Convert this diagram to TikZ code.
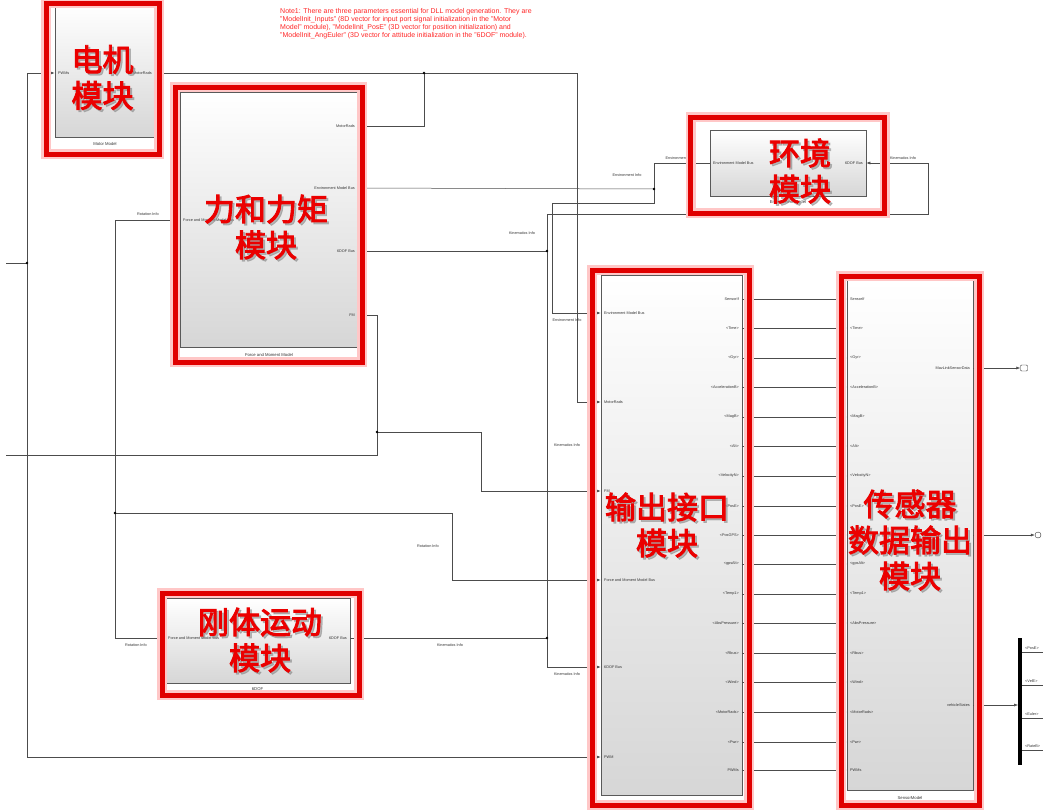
\documentclass[tikz,border=0pt]{standalone}
\usepackage{fontspec}
\setmainfont{Liberation Sans}
\newfontfamily\cjk[AutoFakeBold=3]{Noto Sans CJK SC}
\usepackage{tikz}
\usetikzlibrary{arrows.meta}

\begin{document}
\begin{tikzpicture}[x=1pt,y=-1pt,
    blk/.style={draw=black!65, line width=.6pt, top color=white, bottom color=gray!32, inner sep=0pt},
    hl/.style={draw=red!88!black, line width=5pt, preaction={draw=red!22, line width=10pt}, inner sep=0pt},
    wire/.style={draw=black!70, line width=.5pt},
    sig/.style={draw=black!70, line width=.5pt, -{Latex[length=4pt,width=3pt]}},
    port/.style={font=\fontsize{3.8}{4.5}\selectfont, inner sep=1pt, text=black!80},
    bname/.style={font=\fontsize{4.2}{5}\selectfont, inner sep=0pt, text=black!80},
    zh/.style={font=\cjk\bfseries\fontsize{31}{36}\selectfont, text=red!92!black, align=center},
    zhshadow/.style={font=\cjk\bfseries\fontsize{31}{36}\selectfont, text=black!45, opacity=.55, align=center},
    jdot/.style={circle, fill=black, inner sep=0pt, minimum size=2.6pt}]
      \useasboundingbox (0,0) rectangle (1043,811);
      % blocks
      \node[blk, minimum width=100, minimum height=132] (motor) at (105,71) {};
      \node[blk, minimum width=178, minimum height=255] (force) at (269,219.5) {};
      \node[blk, minimum width=185, minimum height=85] (sixdof) at (257.5,640.5) {};
      \node[blk, minimum width=156, minimum height=66] (env) at (788,163) {};
      \node[blk, minimum width=141, minimum height=520] (outsig) at (671.5,535) {};
      \node[blk, minimum width=126, minimum height=510] (sensor) at (910,535) {};
      \draw (105,144) node[bname] {Motor Model};
      \draw (269,355) node[bname] {Force and Moment Model};
      \draw (257.5,689) node[bname] {6DOF};
      \draw (788,202) node[bname] {Environment Model};
      \draw (671.5,802) node[bname] {OutputSignals};
      \draw (910,798) node[bname] {SensorModel};
      % port names
      \draw (57,73) node[port,anchor=west] {PWMs};
      \draw (153,73) node[port,anchor=east] {MotorRads};
      \draw (356,126) node[port,anchor=east] {MotorRads};
      \draw (356,188) node[port,anchor=east] {Environment Model Bus};
      \draw (356,251) node[port,anchor=east] {6DOF Bus};
      \draw (356,315) node[port,anchor=east] {FM};
      \draw (182,220) node[port,anchor=west] {Force and Moment Model Bus};
      \draw (167,638) node[port,anchor=west] {Force and Moment Model Bus};
      \draw (348,638) node[port,anchor=east] {6DOF Bus};
      \draw (712,163) node[port,anchor=west] {Environment Model Bus};
      \draw (864,163) node[port,anchor=east] {6DOF Bus};
      \draw (603,313) node[port,anchor=west] {Environment Model Bus};
      \draw (603,402) node[port,anchor=west] {MotorRads};
      \draw (603,491) node[port,anchor=west] {FM};
      \draw (603,580) node[port,anchor=west] {Force and Moment Model Bus};
      \draw (603,667) node[port,anchor=west] {6DOF Bus};
      \draw (603,757) node[port,anchor=west] {PWM};
      \draw (971,368) node[port,anchor=east] {MavLinkSensorData};
      \draw (971,705) node[port,anchor=east] {vehicleStates};
      % named points of the wires
      \coordinate (in1) at (6,263);
      \coordinate (in2) at (6,455);
      \coordinate (jin) at (27,263);
      \coordinate (jmot) at (424,73);
      \coordinate (jenv) at (654,189);
      \coordinate (jdof) at (547,638);
      \coordinate (jkin) at (547,251);
      \coordinate (jfm) at (377,432);
      \coordinate (jrot) at (115,513);
      % inports and PWM
      \draw[wire] (in1) -- (jin);
      \draw[wire] (27,73) -- (27,757);
      \draw[sig] (27,73) -- (motor.west |- 0,73);
      \draw[sig] (27,757) -- (outsig.west |- 0,757);
      % motor speed
      \draw[wire] (motor.east |- 0,73) -- (577,73) -- (577,402);
      \draw[sig] (577,402) -- (outsig.west |- 0,402);
      \draw[sig] (jmot) |- (force.east |- 0,126);
      % environment
      \draw[wire] (env.west |- 0,163) -| (jenv);
      \draw[sig] (jenv) -- (force.east |- 0,188);
      \draw[wire] (jenv) |- (552,203) -- (552,313);
      \draw[sig] (552,313) -- (outsig.west |- 0,313);
      % 6DOF
      \draw[wire] (sixdof.east |- 0,638) -- (jdof) -- (547,667);
      \draw[sig] (547,667) -- (outsig.west |- 0,667);
      \draw[wire] (jdof) -- (547,214) -- (928,214) -- (928,163);
      \draw[sig] (928,163) -- (env.east |- 0,163);
      \draw[sig] (jkin) -- (force.east |- 0,251);
      % force/moment input
      \draw[wire] (in2) -- (377,455) -- (377,315);
      \draw[sig] (377,315) -- (force.east |- 0,315);
      \draw[wire] (jfm) -- (481,432) -- (481,491);
      \draw[sig] (481,491) -- (outsig.west |- 0,491);
      % rotation info
      \draw[wire] (force.west |- 0,220) -- (115,220) -- (115,638);
      \draw[sig] (115,638) -- (sixdof.west |- 0,638);
      \draw[wire] (jrot) -- (452,513) -- (452,580);
      \draw[sig] (452,580) -- (outsig.west |- 0,580);
      % junctions
      \node[jdot] at (jin) {};
      \node[jdot] at (jmot) {};
      \node[jdot] at (jenv) {};
      \node[jdot] at (jdof) {};
      \node[jdot] at (jkin) {};
      \node[jdot] at (jfm) {};
      \node[jdot] at (jrot) {};
      % signal names
      \draw (148,214) node[port] {Rotation Info};
      \draw (680,158) node[port] {Environment Info};
      \draw (627,175) node[port] {Environment Info};
      \draw (522,233) node[port] {Kinematics Info};
      \draw (903,158) node[port] {Kinematics Info};
      \draw (567,320) node[port] {Environment Info};
      \draw (567,445) node[port] {Kinematics Info};
      \draw (567,674) node[port] {Kinematics Info};
      \draw (428,546) node[port] {Rotation Info};
      \draw (136,645) node[port] {Rotation Info};
      \draw (450,645) node[port] {Kinematics Info};
      % sensor signals
      \foreach \y/\lbl in {299/SensorIf, 328/{<Time>}, 358/{<Gyr>}, 387/{<AccelerationB>},
          417/{<MagB>}, 446/{<Alt>}, 476/{<VelocityN>}, 506/{<PosE>}, 535/{<PosGPS>},
          564/{<gpsAlt>}, 594/{<Temp1>}, 623/{<AbsPressure>}, 653/{<Rbus>}, 682/{<Wind>},
          712/{<MotorRads>}, 742/{<Pwr>}, 770/PWMs}{
        \draw[sig] (outsig.east |- 0,\y) -- (sensor.west |- 0,\y);
        \draw (740,\y) node[port,anchor=east] {\lbl};
        \draw (849,\y) node[port,anchor=west] {\lbl};
      }
      % outputs
      \node[draw=black!80, rounded corners=1pt, minimum width=7, minimum height=6, inner sep=0pt] (out1) at (1024,368) {};
      \node[draw=black!80, circle, minimum size=6, inner sep=0pt] (out2) at (1038,535) {};
      \node[fill=black, minimum width=3.5, minimum height=127, inner sep=0pt] (bus) at (1020,701) {};
      \draw[sig] (sensor.east |- 0,368) -- (out1.west);
      \draw[sig] (sensor.east |- 0,535) -- (out2.west);
      \draw[sig] (sensor.east |- 0,705) -- (bus.west |- 0,705);
      \foreach \y/\lbl in {652/{<PosE>}, 685/{<VelE>}, 718/{<Euler>}, 750/{<RateB>}}{
        \draw[wire] (bus.east |- 0,\y) -- (1043,\y);
        \draw (1024,\y-4) node[port,anchor=west] {\lbl};
      }
      % note
      \node[text=red!85, font=\fontsize{7}{8.2}\selectfont, anchor=north west, align=left, inner sep=0pt] (note) at (280,8)
        {Note1: There are three parameters essential for DLL model generation. They are\\
         "ModelInit\_Inputs" (8D vector for input port signal initialization in the "Motor\\
         Model" module), "ModelInit\_PosE" (3D vector for position initialization) and\\
         "ModelInit\_AngEuler" (3D vector for attitude initialization in the "6DOF" module).};
      % highlight frames
      \node[hl, minimum width=113, minimum height=151] (motorbox) at (102.5,78.5) {};
      \node[hl, minimum width=187, minimum height=275] (forcebox) at (268.5,224.5) {};
      \node[hl, minimum width=197, minimum height=102] (sixdofbox) at (260.5,644) {};
      \node[hl, minimum width=194, minimum height=96] (envbox) at (787.5,165) {};
      \node[hl, minimum width=157, minimum height=535] (outbox) at (670.5,537.5) {};
      \node[hl, minimum width=138, minimum height=529] (sensorbox) at (910,540.5) {};
      % chinese captions
      \node[zhshadow] at (104.5,79.5) {电机\\模块};
      \node[zh] (motorzh) at (102.5,77.5) {电机\\模块};
      \node[zhshadow] at (268,229) {力和力矩\\模块};
      \node[zh] (forcezh) at (266,227) {力和力矩\\模块};
      \node[zhshadow] at (262,642) {刚体运动\\模块};
      \node[zh] (sixdofzh) at (260,640) {刚体运动\\模块};
      \node[zhshadow] at (802,173) {环境\\模块};
      \node[zh] (envzh) at (800,171) {环境\\模块};
      \node[zhshadow] at (669,527) {输出接口\\模块};
      \node[zh] (outzh) at (667,525) {输出接口\\模块};
      \node[zhshadow] at (912,542) {传感器\\数据输出\\模块};
      \node[zh] (sensorzh) at (910,540) {传感器\\数据输出\\模块};
\end{tikzpicture}
\end{document}
